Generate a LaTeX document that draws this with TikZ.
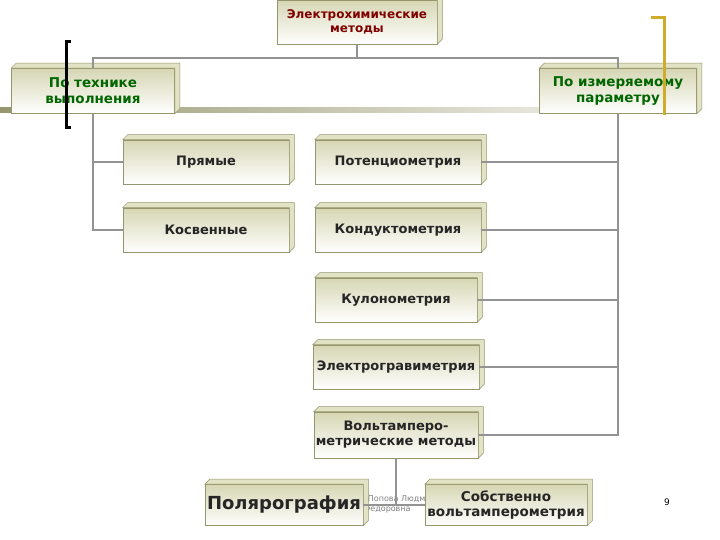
\documentclass[tikz,border=0pt]{standalone}
\usepackage{fontspec}
\setmainfont{DejaVu Sans}
\definecolor{khaki}{RGB}{214,214,180}
\definecolor{khakid}{RGB}{150,150,110}
\definecolor{khakit}{RGB}{226,226,196}
\begin{document}
\begin{tikzpicture}[x=1pt,y=1pt,
 bx/.style={draw=khakid,line width=0.6pt,top color=khaki,bottom color=white,fill=white,
   minimum height=44pt,inner sep=1pt,align=center,font=\bfseries\fontsize{13}{15}\selectfont,text=black!85},
 ln/.style={draw=gray!85,line width=1.5pt}]
\useasboundingbox (0,0) rectangle (720,540);
\fill[white] (0,0) rectangle (720,540);
% decorative band
\shade[left color=khakid,right color=white] (0,427) rectangle (710,432);
% footer (partly hidden behind boxes)
\node[font=\fontsize{8}{10}\selectfont,text=gray,align=left,anchor=north west] (ft) at (296,48) {МИКОУ П.К №9. Попова Людмила\\\hspace*{64pt}Федоровна};
\newcommand\ext[1]{\fill[khakit,draw=khakid,line width=0.5pt]
 (#1.north west) -- ++(5,5) -| ([shift={(5,5)}]#1.south east) -- (#1.south east) -- (#1.north east) -- cycle;}
% nodes
\node[bx,minimum width=160pt,minimum height=44pt,text=red!50!black,font=\bfseries\fontsize{12}{14}\selectfont] (top) at (357,518) {Электрохимические\\методы};
\node[bx,minimum width=163pt,minimum height=45pt,text=green!40!black,font=\bfseries\fontsize{13.5}{16}\selectfont] (L) at (93,449) {По технике\\выполнения};
\node[bx,minimum width=157pt,minimum height=45pt,text=green!40!black,font=\bfseries\fontsize{13.5}{16}\selectfont] (R) at (618,449) {По измеряемому\\параметру};
\node[bx,minimum width=166pt] (a) at (206,378) {Прямые};
\node[bx,minimum width=166pt] (b) at (398,378) {Потенциометрия};
\node[bx,minimum width=166pt] (c) at (206,310) {Косвенные};
\node[bx,minimum width=166pt] (d) at (398,310) {Кондуктометрия};
\node[bx,minimum width=162pt] (e) at (396,240) {Кулонометрия};
\node[bx,minimum width=166pt] (f) at (396,173) {Электрогравиметрия};
\node[bx,minimum width=164pt,minimum height=46pt] (g) at (396,105) {Вольтамперо-\\метрические методы};
\node[bx,minimum width=158pt,minimum height=41pt,font=\bfseries\fontsize{18}{20}\selectfont] (h) at (284,35) {Полярография};
\node[bx,minimum width=162pt,minimum height=41pt,font=\bfseries\fontsize{13.5}{15}\selectfont] (k) at (506,35) {Собственно\\вольтамперометрия};
\foreach \n in {top,L,R,a,b,c,d,e,f,g,h,k}{\ext{\n}}
% connectors
\draw[ln] (top.south) -- (357,482) coordinate (t1);
\draw[ln] (L.north) |- (t1) -| (R.north);
\draw[ln] (L.south) |- (a.west);
\draw[ln] (L.south) |- (c.west);
\draw[ln] (R.south) |- (b.east);
\draw[ln] (R.south) |- (d.east);
\draw[ln] (R.south) |- (e.east);
\draw[ln] (R.south) |- (f.east);
\draw[ln] (R.south) |- (g.east);
\draw[ln] (g.south) |- (k.west);
\draw[ln] (g.south) |- (h.east);
% brackets
\draw[black,line width=3pt] (71,498) -- (66,498) -- (66,412) -- (71,412);
\draw[yellow!60!orange!80!black,line width=3pt] (651,522) -- (664,522) -- (664,425);
\node[font=\fontsize{9}{10}\selectfont] (pg) at (667,38) {9};
\end{tikzpicture}
\end{document}
